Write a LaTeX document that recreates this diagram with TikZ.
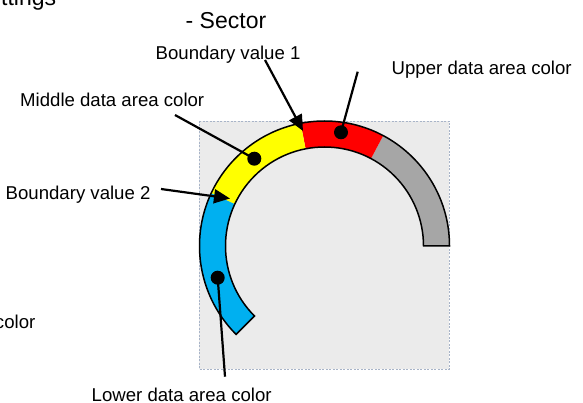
\documentclass[tikz,border=0pt]{standalone}
\usepackage{fontspec}
\setmainfont{Liberation Sans}
\usetikzlibrary{calc,arrows.meta}
\definecolor{boxfill}{HTML}{EBEBEB}
\definecolor{boxline}{HTML}{A8B4C8}
\definecolor{segred}{HTML}{FF0000}
\definecolor{segyellow}{HTML}{FFFF00}
\definecolor{segblue}{HTML}{00B0F0}
\definecolor{seggray}{HTML}{A6A6A6}
\tikzset{
  lbl/.style={inner sep=0pt, anchor=base west, font=\fontsize{18.6}{20}\selectfont},
  ttl/.style={inner sep=0pt, anchor=base west, font=\fontsize{23}{25}\selectfont},
  dot/.style={circle, fill=black, inner sep=0pt, minimum size=14pt},
  conn/.style={line width=2.2pt, black},
  barrow/.style={line width=2.2pt, black, -{Triangle[length=16pt,width=14pt]}},
  boxst/.style={fill=boxfill, draw=boxline, line width=0.7pt, dash pattern=on 2pt off 1.5pt},
}
\newcommand{\segm}[3]{%
  \fill[#1] ($(c)+(#2:125)$) arc[start angle=#2, end angle=#3, radius=125]
    -- ($(c)+(#3:99)$) arc[start angle=#3, end angle=#2, radius=99] -- cycle;}
\begin{document}
\begin{tikzpicture}[x=1pt,y=1pt]
\useasboundingbox (0,0) rectangle (583,-403);
\clip (0,0) rectangle (583,-403);
% background box
\draw[boxst] (199,-121) rectangle (449,-369);
% arc
\coordinate (c) at (324.5,-246);
\segm{seggray}{0}{62}
\segm{segred}{62}{101}
\segm{segyellow}{101}{155}
\segm{segblue}{155}{225}
\draw[line width=1.5pt, line join=miter] ($(c)+(0:125)$) arc[start angle=0, end angle=225, radius=125]
  -- ($(c)+(225:99)$) arc[start angle=225, end angle=0, radius=99] -- cycle;
% texts
\node[ttl] (tset) at (1,-5.7) {ttings};
\node[ttl] (tsec) at (185.5,-28.3) {- Sector};
\node[lbl] (tb1) at (155.5,-60) {Boundary value 1};
\node[lbl] (tup) at (391.5,-75) {Upper data area color};
\node[lbl] (tmid) at (20,-106.7) {Middle data area color};
\node[lbl] (tb2) at (5.5,-199.3) {Boundary value 2};
\node[lbl, anchor=base east] (tcol) at (35.5,-328.3) {color};
\node[lbl] (tlow) at (91.5,-401.5) {Lower data area color};
% dots
\node[dot] (dup) at (341,-132.3) {};
\node[dot] (dmid) at (254.3,-158.7) {};
\node[dot] (dlow) at (217.7,-277.7) {};
% connector ends
\coordinate (sup) at (357.7,-71.7);
\coordinate (smid) at (175,-115);
\coordinate (slow) at (225,-376.7);
\coordinate (sb1) at (265,-60);
\coordinate (eb1) at (303,-131);
\coordinate (sb2) at (161,-189);
\coordinate (eb2) at (230,-198.5);
% connectors
\draw[conn] (sup) -- (dup.center);
\draw[conn] (smid) -- (dmid.center);
\draw[conn] (slow) -- (dlow.center);
\draw[barrow] (sb1) -- (eb1);
\draw[barrow] (sb2) -- (eb2);
\end{tikzpicture}
\end{document}
